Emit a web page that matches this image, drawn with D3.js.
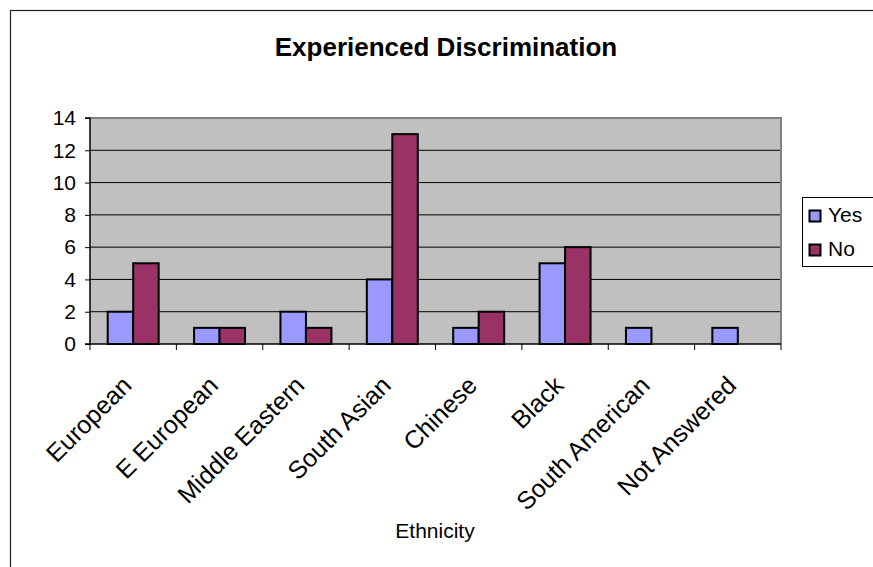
<!DOCTYPE html>
<html>
<head>
<meta charset="utf-8">
<script src="https://cdn.jsdelivr.net/npm/d3@7"></script>
<style>
  html, body { margin: 0; padding: 0; background: #fff; }
  svg { display: block; font-family: "Liberation Sans", Arial, sans-serif; }
</style>
</head>
<body>
<svg id="chart" width="873" height="567"></svg>
<script>
// Ethnicity categories and responses
const categories = ["European", "E European", "Middle Eastern", "South Asian", "Chinese", "Black", "South American", "Not Answered"];
const yesValues = [2, 1, 2, 4, 1, 5, 1, 1];
const noValues = [5, 1, 1, 13, 2, 6, 0, 0];
const seriesNames = ["Yes", "No"];
const seriesColors = ["#9999FF", "#993366"];
const yTicks = [0, 2, 4, 6, 8, 10, 12, 14];

const svg = d3.select("#chart");

// Outer chart frame (runs off the right and bottom edges)
svg.append("rect")
  .attr("x", 10.5).attr("y", 10.5)
  .attr("width", 900).attr("height", 600)
  .attr("fill", "#fff").attr("stroke", "#222").attr("stroke-width", 1.2);

const plot = { left: 90, right: 781, top: 118, bottom: 344 };

const x0 = d3.scaleBand().domain(categories).range([plot.left, plot.right]).paddingInner(0).paddingOuter(0);
const groupPad = 0.41;
const x1 = d3.scaleBand().domain(seriesNames)
  .range([x0.bandwidth() * groupPad / 2, x0.bandwidth() * (1 - groupPad / 2)]);
const y = d3.scaleLinear().domain([0, 14]).range([plot.bottom, plot.top]);

// Plot area background
svg.append("rect")
  .attr("x", plot.left).attr("y", plot.top)
  .attr("width", plot.right - plot.left).attr("height", plot.bottom - plot.top)
  .attr("fill", "#C0C0C0");

// Horizontal gridlines
svg.append("g").selectAll("line")
  .data(yTicks.filter(t => t > 0 && t < 14))
  .join("line")
  .attr("x1", plot.left).attr("x2", plot.right)
  .attr("y1", d => y(d)).attr("y2", d => y(d))
  .attr("stroke", "#000").attr("stroke-width", 1);

// Plot area border (top and right)
svg.append("path")
  .attr("d", `M${plot.left},${plot.top}H${plot.right}V${plot.bottom}`)
  .attr("fill", "none").attr("stroke", "#808080").attr("stroke-width", 2);

// Bars
const rows = categories.map((c, i) => ({ cat: c, vals: [yesValues[i], noValues[i]] }));
const groups = svg.append("g").selectAll("g")
  .data(rows).join("g")
  .attr("transform", d => `translate(${x0(d.cat)},0)`);
groups.selectAll("rect")
  .data(d => d.vals.map((v, j) => ({ key: seriesNames[j], v, j })).filter(e => e.v > 0))
  .join("rect")
  .attr("x", d => x1(d.key))
  .attr("y", d => y(d.v))
  .attr("width", x1.bandwidth())
  .attr("height", d => y(0) - y(d.v))
  .attr("fill", d => seriesColors[d.j])
  .attr("stroke", "#000").attr("stroke-width", 2);

// Y axis
const yAxis = svg.append("g")
  .attr("transform", `translate(${plot.left},0)`)
  .call(d3.axisLeft(y).tickValues(yTicks).tickSize(5).tickPadding(9).tickFormat(d3.format("d")));
yAxis.select(".domain").attr("stroke", "#000").attr("stroke-width", 1.5).attr("d", `M-5,${plot.top}H0V${plot.bottom}`);
yAxis.selectAll(".tick line").attr("stroke", "#000");
yAxis.selectAll("text").attr("font-size", 21).attr("fill", "#000")
  .attr("font-family", "Liberation Sans, Arial, sans-serif");

// X axis with category boundary ticks
const xg = svg.append("g");
xg.append("line")
  .attr("x1", plot.left - 5).attr("x2", plot.right)
  .attr("y1", plot.bottom).attr("y2", plot.bottom)
  .attr("stroke", "#000").attr("stroke-width", 1.5);
const bounds = categories.map(c => x0(c)).concat([plot.right]);
xg.selectAll("line.tk").data(bounds).join("line")
  .attr("class", "tk")
  .attr("x1", d => d).attr("x2", d => d)
  .attr("y1", plot.bottom).attr("y2", plot.bottom + 6)
  .attr("stroke", "#000");
xg.selectAll("text").data(categories).join("text")
  .attr("transform", d => `translate(${x0(d) + x0.bandwidth() / 2},${plot.bottom + 43}) rotate(-45)`)
  .attr("text-anchor", "end")
  .attr("font-size", 25)
  .attr("fill", "#000")
  .text(d => d);

// Title
svg.append("text")
  .attr("x", 446).attr("y", 56)
  .attr("text-anchor", "middle")
  .attr("font-size", 26).attr("font-weight", "bold")
  .text("Experienced Discrimination");

// Axis title
svg.append("text")
  .attr("x", 435).attr("y", 538)
  .attr("text-anchor", "middle")
  .attr("font-size", 21)
  .text("Ethnicity");

// Legend
const lg = svg.append("g").attr("transform", "translate(802,197)");
lg.append("rect").attr("x", 0.5).attr("y", 0.5).attr("width", 90).attr("height", 69)
  .attr("fill", "#fff").attr("stroke", "#000").attr("stroke-width", 1);
seriesNames.forEach((s, i) => {
  lg.append("rect")
    .attr("x", 7.5).attr("y", 13.5 + i * 34)
    .attr("width", 11).attr("height", 11)
    .attr("fill", seriesColors[i]).attr("stroke", "#000").attr("stroke-width", 2);
  lg.append("text")
    .attr("x", 26).attr("y", 25 + i * 34)
    .attr("font-size", 21)
    .text(s);
});
</script>
</body>
</html>
